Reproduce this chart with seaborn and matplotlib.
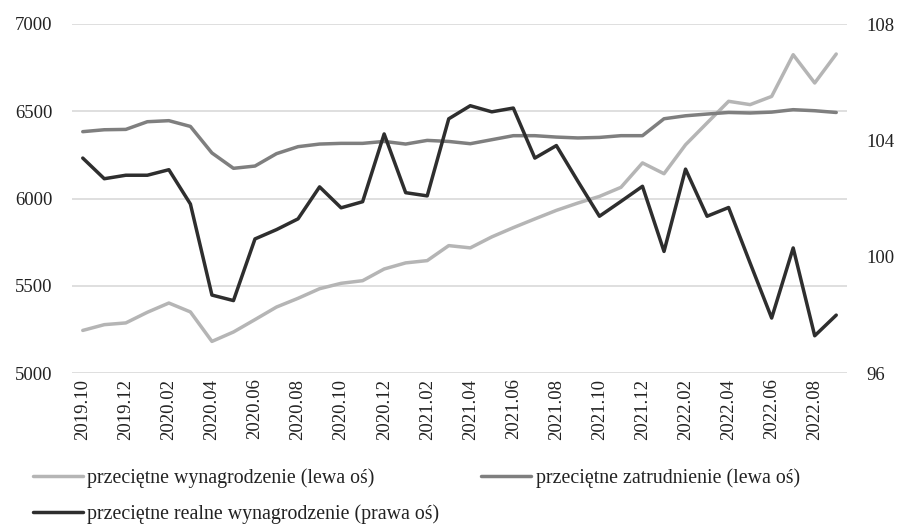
import numpy as np
import pandas as pd
import matplotlib
matplotlib.use("Agg")
import matplotlib.pyplot as plt
import seaborn as sns

months = [f"{y}.{m:02d}" for y, m in
          [(2019, 10), (2019, 11), (2019, 12)] +
          [(2020, m) for m in range(1, 13)] +
          [(2021, m) for m in range(1, 13)] +
          [(2022, m) for m in range(1, 10)]]

wynagrodzenie = [5244, 5277, 5287, 5348, 5401, 5350, 5181, 5235, 5306, 5378,
                 5428, 5483, 5514, 5529, 5596, 5631, 5644, 5730, 5717, 5780,
                 5833, 5883, 5932, 5974, 6012, 6064, 6204, 6142, 6308, 6433,
                 6557, 6538, 6585, 6824, 6662, 6828]

zatrudnienie = [6383, 6394, 6396, 6440, 6446, 6413, 6261, 6173, 6186, 6257,
                6297, 6312, 6316, 6316, 6327, 6312, 6333, 6327, 6314, 6337,
                6360, 6360, 6352, 6347, 6350, 6360, 6360, 6457, 6474, 6484,
                6493, 6490, 6495, 6509, 6503, 6493]

realne = [103.39, 102.68, 102.80, 102.80, 102.99, 101.81, 98.68, 98.49, 100.61,
          100.93, 101.30, 102.40, 101.68, 101.89, 104.22, 102.20, 102.09, 104.74,
          105.19, 104.98, 105.11, 103.39, 103.82, 102.59, 101.39, 101.90, 102.42,
          100.18, 103.01, 101.39, 101.69, 99.78, 97.89, 100.30, 97.28, 97.99]

labels = ["przeciętne wynagrodzenie (lewa oś)",
          "przeciętne zatrudnienie (lewa oś)",
          "przeciętne realne wynagrodzenie (prawa oś)"]

df = pd.DataFrame({"idx": np.arange(len(months)), "month": months,
                   "wyn": wynagrodzenie, "zat": zatrudnienie, "real": realne})

sns.set_theme(style="white")
plt.rcParams["font.family"] = ["Liberation Serif", "DejaVu Serif"]

fig = plt.figure(figsize=(8.99, 5.26), dpi=100)
ax = fig.add_axes([72 / 899, 1 - 373 / 526, (847 - 72) / 899, (373 - 24) / 526])
ax2 = ax.twinx()

c_light, c_mid, c_dark = "#b5b5b5", "#7f7f7f", "#2e2e2e"
lw = 2.5

sns.lineplot(data=df, x="idx", y="wyn", ax=ax, color=c_light, linewidth=lw, label=labels[0], legend=False)
sns.lineplot(data=df, x="idx", y="zat", ax=ax, color=c_mid, linewidth=lw, label=labels[1], legend=False)
sns.lineplot(data=df, x="idx", y="real", ax=ax2, color=c_dark, linewidth=lw, label=labels[2], legend=False)

ax.set_xlim(-0.5, len(months) - 0.5)
ax.set_ylim(5000, 7000)
ax.set_yticks([5000, 5500, 6000, 6500, 7000])
ax2.set_ylim(96, 108)
ax2.set_yticks([96, 100, 104, 108])

ax.set_xticks(df["idx"][::2])
ax.set_xticklabels(df["month"][::2], rotation=90, fontsize=13.5)
ax.yaxis.grid(True, color="#d9d9d9", linewidth=1.2)
ax.set_axisbelow(True)
ax.set_xlabel("")
ax.set_ylabel("")
ax2.set_ylabel("")
for a in (ax, ax2):
    for s in a.spines.values():
        s.set_visible(False)
    a.tick_params(length=0, labelsize=13.5, colors="#222222")
ax.tick_params(axis="y", pad=14)
ax2.tick_params(axis="y", pad=14)
ax.tick_params(axis="x", pad=4)

h1, l1 = ax.get_legend_handles_labels()
h2, l2 = ax2.get_legend_handles_labels()
handles = [h1[0], h2[0], h1[1]]
labs = [l1[0], l2[0], l1[1]]
fig.legend(handles, labs, ncol=2, loc="upper left",
           bbox_to_anchor=(15 / 899, 1 - 450 / 526), frameon=False,
           fontsize=14.3, handlelength=2.5, handletextpad=0.25,
           columnspacing=2.1, labelspacing=0.85, labelcolor="#222222")

fig.savefig("out.png", dpi=100)
